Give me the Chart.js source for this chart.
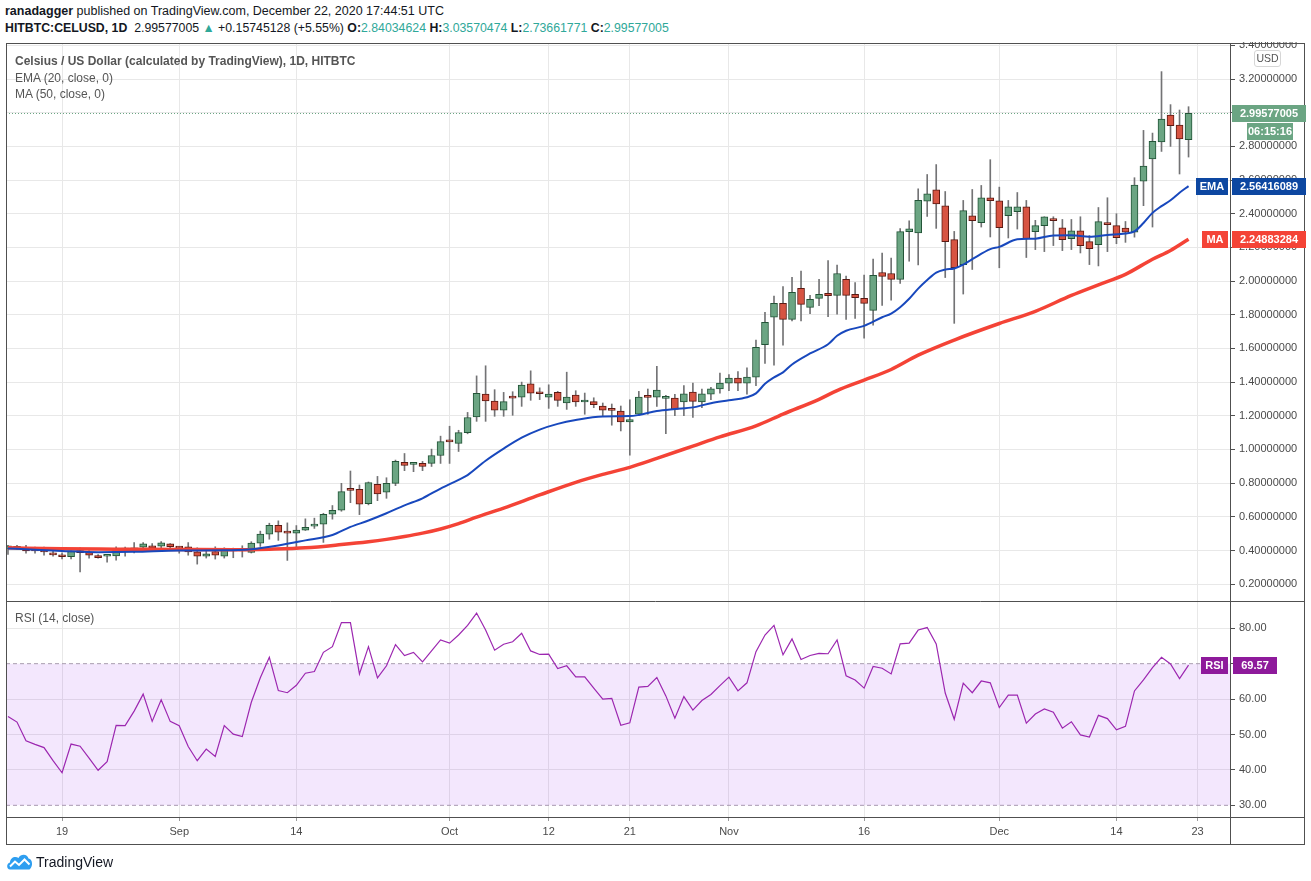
<!DOCTYPE html>
<html>
<head>
<meta charset="utf-8">
<title>CELUSD 1D</title>
<script src="https://cdn.jsdelivr.net/npm/chart.js@4.4.1/dist/chart.umd.min.js"></script>
<style>
  body { margin: 0; background: #fff; font-family: "Liberation Sans", Arial, sans-serif; color: #131722; }
  #wrap { position: relative; width: 1311px; height: 881px; overflow: hidden; }
  #chart { position: absolute; left: 0; top: 0; }
  .head { position: absolute; left: 0; top: 0; width: 1311px; height: 42px; background: #fff; }
  .line1 { position: absolute; left: 5px; top: 4px; font-size: 12.5px; white-space: nowrap; }
  .line2 { position: absolute; left: 5px; top: 21px; font-size: 12.3px; white-space: nowrap; }
  .up { color: #2fa899; }
  .leg { position: absolute; left: 15px; font-size: 12px; color: #555; white-space: nowrap; }
  .usd { position: absolute; left: 1254px; top: 50px; width: 25px; height: 15px; border: 1px solid #d6d6d6;
         border-radius: 3px; font-size: 10.5px; color: #555; text-align: center; line-height: 15px; background: #fff; }
  .brand { position: absolute; left: 6px; top: 853px; display: flex; align-items: center; font-size: 14px; color: #131722; }
  .brand svg { margin-right: 3px; }
</style>
</head>
<body>
<div id="wrap">
  <canvas id="chart" width="1311" height="881"></canvas>
  <div class="head">
    <div class="line1"><b>ranadagger</b> published on TradingView.com, December 22, 2020 17:44:51 UTC</div>
    <div class="line2"><b>HITBTC:CELUSD, 1D</b>&nbsp; 2.99577005 <span class="up">&#9650;</span> +0.15745128 (+5.55%) <b>O:</b><span class="up">2.84034624</span> <b>H:</b><span class="up">3.03570474</span> <b>L:</b><span class="up">2.73661771</span> <b>C:</b><span class="up">2.99577005</span></div>
  </div>
  <div class="leg" style="top:54px;font-weight:bold;">Celsius / US Dollar (calculated by TradingView), 1D, HITBTC</div>
  <div class="leg" style="top:71px;">EMA (20, close, 0)</div>
  <div class="leg" style="top:87px;">MA (50, close, 0)</div>
  <div class="leg" style="top:611px;">RSI (14, close)</div>
  <div class="usd">USD</div>
  <div class="brand">
    <svg width="27" height="17" viewBox="0 0 27 17"><path d="M4 16.5C0.5 16.5 0 10.5 4 9.5C4 4.5 9.5 2.5 12.5 5C14.5 0.5 21.5 0.5 22.5 5.5C26.5 6 27.5 13 23.5 16.5Z" fill="#2e9ef0"/><polyline points="4,13.5 9,8.5 13,12 18.5,6.5 23.5,11.5" fill="none" stroke="#fff" stroke-width="2"/></svg>
    <span>TradingView</span>
  </div>
</div>
<script>
// daily candles, Aug 13 2020 (day 0) to Dec 22 2020 (day 131)
const opens = [
  0.412,0.412,0.418,0.408,0.395,0.386,0.374,0.363,0.394,0.387,
  0.370,0.366,0.367,0.403,0.402,0.420,0.428,0.426,0.440,0.422,
  0.422,0.392,0.366,0.394,0.366,0.410,0.398,0.389,0.444,0.497,
  0.550,0.509,0.503,0.521,0.545,0.556,0.615,0.639,0.760,0.763,
  0.678,0.793,0.746,0.799,0.923,0.911,0.917,0.917,0.964,1.050,
  1.036,1.100,1.193,1.329,1.288,1.234,1.310,1.311,1.390,1.337,
  1.311,1.339,1.276,1.323,1.282,1.284,1.258,1.236,1.228,1.163,
  1.209,1.313,1.311,1.303,1.305,1.282,1.341,1.282,1.329,1.359,
  1.394,1.424,1.394,1.430,1.623,1.785,1.868,1.773,1.957,1.844,
  1.897,1.927,1.915,2.010,1.921,1.897,1.826,2.051,2.045,2.010,
  2.294,2.286,2.475,2.542,2.447,2.246,2.098,2.388,2.347,2.495,
  2.477,2.388,2.412,2.441,2.293,2.329,2.370,2.317,2.252,2.299,
  2.234,2.217,2.347,2.329,2.315,2.291,2.594,2.725,2.826,2.986,
  2.927,2.84034624
];
const highs = [
  0.430,0.430,0.430,0.420,0.420,0.406,0.386,0.398,0.416,0.400,
  0.376,0.370,0.422,0.420,0.447,0.447,0.441,0.453,0.441,0.422,
  0.447,0.416,0.398,0.422,0.416,0.414,0.428,0.452,0.515,0.562,
  0.576,0.564,0.548,0.588,0.592,0.621,0.667,0.799,0.872,0.789,
  0.807,0.840,0.832,0.937,0.976,0.923,0.929,1.002,1.079,1.138,
  1.114,1.220,1.437,1.497,1.355,1.339,1.343,1.400,1.467,1.366,
  1.384,1.345,1.459,1.349,1.335,1.307,1.276,1.270,1.258,1.295,
  1.345,1.359,1.493,1.321,1.327,1.380,1.394,1.359,1.369,1.453,
  1.444,1.462,1.485,1.649,1.815,1.911,1.968,2.022,2.059,1.915,
  2.010,2.122,2.095,2.030,1.991,2.036,2.130,2.166,2.136,2.312,
  2.358,2.548,2.633,2.692,2.532,2.295,2.479,2.544,2.568,2.721,
  2.558,2.479,2.526,2.479,2.361,2.382,2.382,2.366,2.366,2.382,
  2.270,2.437,2.495,2.400,2.354,2.614,2.895,2.879,3.244,3.048,
  3.016,3.03570474
];
const lows = [
  0.376,0.406,0.384,0.384,0.372,0.366,0.350,0.350,0.272,0.355,
  0.355,0.331,0.343,0.366,0.386,0.414,0.406,0.414,0.406,0.384,
  0.372,0.319,0.355,0.349,0.355,0.357,0.361,0.385,0.424,0.467,
  0.460,0.341,0.408,0.519,0.531,0.448,0.586,0.633,0.684,0.613,
  0.671,0.696,0.710,0.785,0.874,0.868,0.874,0.899,0.917,0.917,
  0.988,1.093,1.167,1.167,1.197,1.197,1.203,1.256,1.292,1.296,
  1.244,1.256,1.238,1.256,1.209,1.248,1.199,1.144,1.110,0.966,
  1.201,1.209,1.256,1.094,1.201,1.201,1.191,1.248,1.296,1.335,
  1.349,1.349,1.329,1.379,1.511,1.501,1.619,1.763,1.763,1.807,
  1.854,1.789,1.803,1.773,1.779,1.661,1.738,1.856,1.886,1.986,
  2.118,2.096,2.384,2.313,2.021,1.749,1.923,2.069,2.321,2.262,
  2.079,2.256,2.309,2.140,2.187,2.175,2.211,2.181,2.187,2.167,
  2.098,2.090,2.175,2.222,2.230,2.261,2.448,2.321,2.770,2.800,
  2.636,2.73661771
];
const closes = [
  0.428,0.424,0.398,0.398,0.392,0.374,0.363,0.394,0.387,0.372,
  0.357,0.367,0.404,0.406,0.416,0.440,0.414,0.445,0.422,0.414,
  0.392,0.366,0.380,0.372,0.410,0.398,0.406,0.444,0.497,0.550,
  0.509,0.503,0.521,0.537,0.556,0.615,0.639,0.750,0.757,0.675,
  0.803,0.736,0.799,0.929,0.905,0.923,0.899,0.964,1.047,1.045,
  1.100,1.190,1.333,1.288,1.234,1.284,1.305,1.382,1.335,1.331,
  1.329,1.292,1.311,1.282,1.288,1.266,1.234,1.232,1.163,1.177,
  1.311,1.309,1.353,1.305,1.238,1.331,1.286,1.331,1.360,1.394,
  1.424,1.394,1.430,1.607,1.755,1.868,1.773,1.933,1.862,1.892,
  1.921,1.913,2.045,1.915,1.901,1.868,2.034,2.028,2.010,2.294,
  2.310,2.480,2.518,2.459,2.234,2.080,2.418,2.359,2.495,2.477,
  2.317,2.441,2.441,2.252,2.329,2.382,2.359,2.246,2.299,2.211,
  2.193,2.353,2.335,2.258,2.291,2.570,2.683,2.830,2.962,2.923,
  2.844,2.99577005
];

// EMA 20 and MA 50 at these days
const emaDays = [0,3,6,10,14,19,24,27,30,33,36,38,40,42,44,46,48,50,51,53,55,57,59,61,63,66,69,70,72,74,
  76,78,80,82,83,84,85,86,87,89,91,92,93,95,97,98,99,100,101,102,103,104,105,106,107,109,110,112,114,116,
  118,120,122,124,125,126,127,128,129,130,131];
const emaValues = [0.412,0.405,0.397,0.390,0.392,0.400,0.401,0.408,0.430,0.460,0.492,0.540,0.578,0.621,0.668,0.710,0.768,0.820,0.848,0.933,
  1.005,1.070,1.118,1.152,1.175,1.196,1.198,1.205,1.228,1.240,1.250,1.275,1.292,1.310,1.333,1.390,1.428,1.458,1.505,1.570,
  1.625,1.675,1.705,1.734,1.785,1.807,1.845,1.895,1.955,2.006,2.050,2.068,2.075,2.098,2.130,2.190,2.203,2.248,2.252,2.271,
  2.272,2.264,2.274,2.282,2.295,2.345,2.405,2.445,2.480,2.525,2.56416089];
const maDays = [0,6,12,19,25,29,33,37,40,42,44,46,48,50,52,55,59,63,66,69,72,76,79,83,86,90,92,95,98,101,
  105,110,114,118,121,124,127,129,131];
const maValues = [0.416,0.410,0.408,0.406,0.404,0.408,0.416,0.435,0.452,0.466,0.483,0.503,0.528,0.560,0.598,0.652,0.730,0.805,0.852,0.894,
  0.947,1.020,1.075,1.140,1.210,1.298,1.350,1.412,1.475,1.560,1.650,1.748,1.820,1.915,1.978,2.040,2.130,2.182,2.24883284];

// RSI 14, one value per candle
const rsiValues = [
  55.1,53.5,48.2,47.2,46.3,42.6,39.2,47.3,46.7,43.3,
  39.9,42.3,52.6,52.5,56.6,61.4,53.7,59.8,53.7,52.5,
  46.6,42.6,45.9,43.8,52.5,50.1,49.4,59.1,66.0,71.8,
  62.4,61.8,63.9,67.3,67.8,73.2,74.8,81.6,81.6,67.1,
  74.8,66.0,69.4,75.4,72.3,73.2,70.5,73.6,76.7,75.8,
  78.1,80.8,84.3,79.5,73.8,75.5,76.2,78.6,73.6,72.6,
  72.7,68.6,69.4,66.3,66.3,63.1,60.0,60.2,52.6,53.3,
  63.4,63.6,66.1,60.9,54.6,60.7,56.9,59.6,61.3,63.8,
  66.2,62.3,64.6,73.4,78.1,80.8,72.5,77.0,71.2,72.3,
  72.9,72.8,76.7,66.6,65.4,63.1,69.2,68.7,67.1,75.6,
  75.8,79.5,80.2,75.6,61.7,54.3,64.5,61.8,65.1,64.6,
  57.6,61.1,61.1,53.2,55.8,57.2,56.3,51.8,53.6,49.9,
  49.3,55.4,54.5,51.3,52.3,62.3,65.4,68.9,71.8,69.9,
  65.8,69.57
];
const rsiBands = [70, 30];

const priceTicks = [0.2,0.4,0.6,0.8,1.0,1.2,1.4,1.6,1.8,2.0,2.2,2.4,2.6,2.8,3.0,3.2,3.4];
const rsiTicks = [30,40,50,60,70,80];
const dayTicks = [6,19,32,49,60,69,80,95,110,123,132];
const dayLabels = ["19","Sep","14","Oct","12","21","Nov","16","Dec","14","23"];
const countdown = "06:15:16";

const DAY_MIN = -0.22, DAY_MAX = 135.6;
const GREEN = "#6ba583", GREEN_EDGE = "#225437", RED = "#d75442", RED_EDGE = "#5b1a13";
const EMA_COLOR = "#1848bd", MA_COLOR = "#f44336", RSI_COLOR = "#9c27b0";
const FONT = '"Liberation Sans", Arial, sans-serif';

const isUp = i => closes[i] >= opens[i];

// frame, last price line and the right-hand value tags
const overlay = {
  id: "overlay",
  beforeDatasetsDraw(chart) {
    const c = chart.ctx, a = chart.chartArea;
    const y = Math.round(chart.scales.y.getPixelForValue(closes[closes.length - 1])) + 0.5;
    c.save();
    c.strokeStyle = GREEN;
    c.setLineDash([1, 2]);
    c.beginPath(); c.moveTo(a.left, y); c.lineTo(a.right, y); c.stroke();
    c.restore();
  },
  afterDraw(chart) {
    const c = chart.ctx, a = chart.chartArea;
    const py = chart.scales.y, ry = chart.scales.rsi;
    c.save();
    c.strokeStyle = "#505050";
    c.lineWidth = 1;
    c.strokeRect(6.5, 43.5, 1298, 801);
    [Math.round(ry.top) + 0.5, Math.round(ry.bottom) + 0.5].forEach(y => {
      c.beginPath(); c.moveTo(6, y); c.lineTo(1305, y); c.stroke();
    });
    c.beginPath(); c.moveTo(a.right + 0.5, 43); c.lineTo(a.right + 0.5, 845); c.stroke();

    c.font = "bold 11px " + FONT;
    c.textAlign = "center";
    c.textBaseline = "middle";
    const tag = (text, x, w, y, bg) => {
      c.fillStyle = bg;
      c.fillRect(x, Math.round(y) - 8, w, 17);
      c.fillStyle = "#fff";
      c.fillText(text, x + w / 2, Math.round(y) + 0.5);
    };
    const last = closes.length - 1;
    const yc = py.getPixelForValue(closes[last]);
    tag(closes[last].toFixed(8), a.right + 2, 74, yc, GREEN);
    tag(countdown, a.right + 17, 46, yc + 18, GREEN);
    const ye = py.getPixelForValue(emaValues[emaValues.length - 1]);
    tag("EMA", a.right - 34, 32, ye, "#0d47a1");
    tag(emaValues[emaValues.length - 1].toFixed(8), a.right + 2, 74, ye, "#0d47a1");
    const ym = py.getPixelForValue(maValues[maValues.length - 1]);
    tag("MA", a.right - 28, 26, ym, MA_COLOR);
    tag(maValues[maValues.length - 1].toFixed(8), a.right + 2, 74, ym, MA_COLOR);
    const yr = ry.getPixelForValue(rsiValues[last]);
    tag("RSI", a.right - 29, 27, yr, "#8e1a9b");
    tag(rsiValues[last].toFixed(2), a.right + 3, 44, yr, "#8e1a9b");
    c.restore();
  }
};

const ctx = document.getElementById("chart").getContext("2d");
new Chart(ctx, {
  type: "bar",
  data: {
    datasets: [
      {
        label: "wicks",
        data: highs.map((h, i) => ({ x: i, y: [lows[i], h] })),
        backgroundColor: "#737375",
        barThickness: 1,
        grouped: false,
        yAxisID: "y",
        order: 4
      },
      {
        label: "bodies",
        data: opens.map((o, i) => ({ x: i, y: [o, closes[i]] })),
        backgroundColor: c => isUp(c.dataIndex) ? GREEN : RED,
        borderColor: c => isUp(c.dataIndex) ? GREEN_EDGE : RED_EDGE,
        borderWidth: 1,
        borderSkipped: false,
        barThickness: 7,
        minBarLength: 2,
        grouped: false,
        yAxisID: "y",
        order: 3
      },
      {
        type: "line",
        label: "EMA",
        data: emaDays.map((d, i) => ({ x: d, y: emaValues[i] })),
        borderColor: EMA_COLOR,
        borderWidth: 2,
        pointRadius: 0,
        cubicInterpolationMode: "monotone",
        yAxisID: "y",
        order: 1
      },
      {
        type: "line",
        label: "MA",
        data: maDays.map((d, i) => ({ x: d, y: maValues[i] })),
        borderColor: MA_COLOR,
        borderWidth: 3.5,
        pointRadius: 0,
        cubicInterpolationMode: "monotone",
        yAxisID: "y",
        order: 2
      },
      {
        type: "line",
        label: "RSI",
        data: rsiValues.map((v, i) => ({ x: i, y: v })),
        borderColor: RSI_COLOR,
        borderWidth: 1.2,
        pointRadius: 0,
        yAxisID: "rsi",
        order: 0
      },
      {
        type: "line",
        label: "upper band",
        data: [{ x: DAY_MIN, y: rsiBands[0] }, { x: DAY_MAX, y: rsiBands[0] }],
        borderColor: "#a89caf",
        borderWidth: 1,
        borderDash: [4, 3],
        pointRadius: 0,
        fill: "+1",
        backgroundColor: "rgba(150, 40, 235, 0.11)",
        yAxisID: "rsi",
        order: 5
      },
      {
        type: "line",
        label: "lower band",
        data: [{ x: DAY_MIN, y: rsiBands[1] }, { x: DAY_MAX, y: rsiBands[1] }],
        borderColor: "#a89caf",
        borderWidth: 1,
        borderDash: [4, 3],
        pointRadius: 0,
        fill: false,
        yAxisID: "rsi",
        order: 6
      }
    ]
  },
  options: {
    responsive: false,
    animation: false,
    events: [],
    layout: { padding: { left: 6, top: 43, right: 0, bottom: 36 } },
    plugins: { legend: { display: false }, tooltip: { enabled: false } },
    scales: {
      x: {
        type: "linear",
        min: DAY_MIN,
        max: DAY_MAX,
        offset: false,
        grid: { offset: false, color: "#e8e8e8", tickLength: 4, tickColor: "#9a9a9a" },
        border: { color: "#505050" },
        afterBuildTicks: s => { s.ticks = dayTicks.map(v => ({ value: v })); },
        afterFit: s => { s.height = 28; },
        ticks: {
          autoSkip: false,
          maxRotation: 0,
          padding: 4,
          color: "#4a4a4a",
          font: { family: FONT, size: 11 },
          callback: (v, i) => dayLabels[i]
        }
      },
      y: {
        type: "linear",
        position: "right",
        stack: "panes",
        stackWeight: 558,
        min: 0.1,
        max: 3.414,
        grid: { color: "#e8e8e8", tickLength: 5, tickColor: "#505050" },
        border: { color: "#505050" },
        afterBuildTicks: s => { s.ticks = priceTicks.map(v => ({ value: v })); },
        afterFit: s => { s.width = 81; },
        ticks: {
          padding: 4,
          color: "#4a4a4a",
          font: { family: FONT, size: 11 },
          callback: v => v.toFixed(8)
        }
      },
      rsi: {
        type: "linear",
        position: "right",
        stack: "panes",
        stackWeight: 216,
        min: 26.7,
        max: 87.7,
        grid: {
          color: c => (c.tick && rsiBands.includes(c.tick.value)) ? "rgba(0,0,0,0)" : "#e8e8e8",
          tickLength: 5,
          tickColor: "#505050"
        },
        border: { color: "#505050" },
        afterBuildTicks: s => { s.ticks = rsiTicks.map(v => ({ value: v })); },
        afterFit: s => { s.width = 81; },
        ticks: {
          padding: 4,
          color: "#4a4a4a",
          font: { family: FONT, size: 11 },
          callback: v => v.toFixed(2)
        }
      }
    }
  },
  plugins: [overlay]
});
</script>
</body>
</html>
